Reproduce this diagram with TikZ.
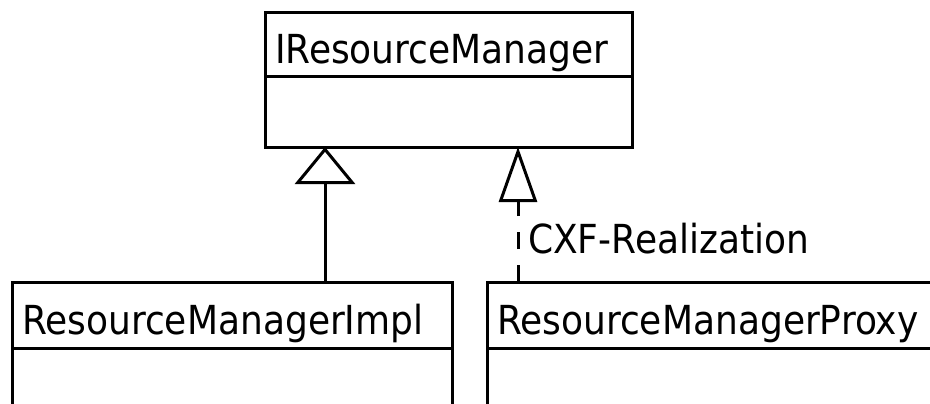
\documentclass[tikz,border=0pt]{standalone}
\usepackage{fontspec}
\setmainfont{DejaVu Sans}[FakeStretch=0.9]
\usetikzlibrary{arrows.meta,positioning}
\begin{document}
\begin{tikzpicture}[x=1pt, y=-1pt,
        classhead/.style={draw, line width=3pt, rectangle, outer sep=0pt,
            inner xsep=10pt, inner ysep=0pt, anchor=north west, align=left,
            minimum height=66pt, text height=38pt, text depth=0pt,
            font=\fontsize{40}{48}\selectfont},
        classbody/.style={draw, line width=3pt, rectangle, outer sep=0pt, inner sep=0pt},
        generalization/.style={line width=3pt, -{Triangle[open, width=60pt, length=37pt]}},
        realization/.style={line width=3pt, dash pattern=on 17pt off 16pt,
            -{Triangle[open, width=38pt, length=55pt]}},
        edgelabel/.style={font=\fontsize{40}{48}\selectfont, inner sep=0pt}
    ]
    \useasboundingbox (0,0) rectangle (930,404);
    \clip (0,0) rectangle (930,404);

    % Interfaccia
    \node[classhead, text width=347pt, minimum height=64pt] (rmhead) at (265,13) {IResourceManager};
    \node[classbody, minimum width=367pt, minimum height=70pt, below=0pt of rmhead] (rmbody) {};

    % Implementazione
    \node[classhead, text width=420pt] (implhead) at (12,282) {ResourceManagerImpl};
    \node[classbody, minimum width=440pt, minimum height=100pt, below=0pt of implhead] (implbody) {};

    % Proxy
    \node[classhead, text width=480pt] (proxyhead) at (487,282) {ResourceManagerProxy};
    \node[classbody, minimum width=500pt, minimum height=100pt, below=0pt of proxyhead] (proxybody) {};

    % Frecce
    \coordinate (genx) at (325,0);
    \coordinate (realx) at (518,0);
    \draw[generalization] (implhead.north -| genx) -- (rmbody.south -| genx);
    \draw[realization] (proxyhead.north -| realx) -- (rmbody.south -| realx);
    \node[edgelabel, anchor=base west] (cxf) at (528,253) {CXF-Realization};
\end{tikzpicture}
\end{document}
